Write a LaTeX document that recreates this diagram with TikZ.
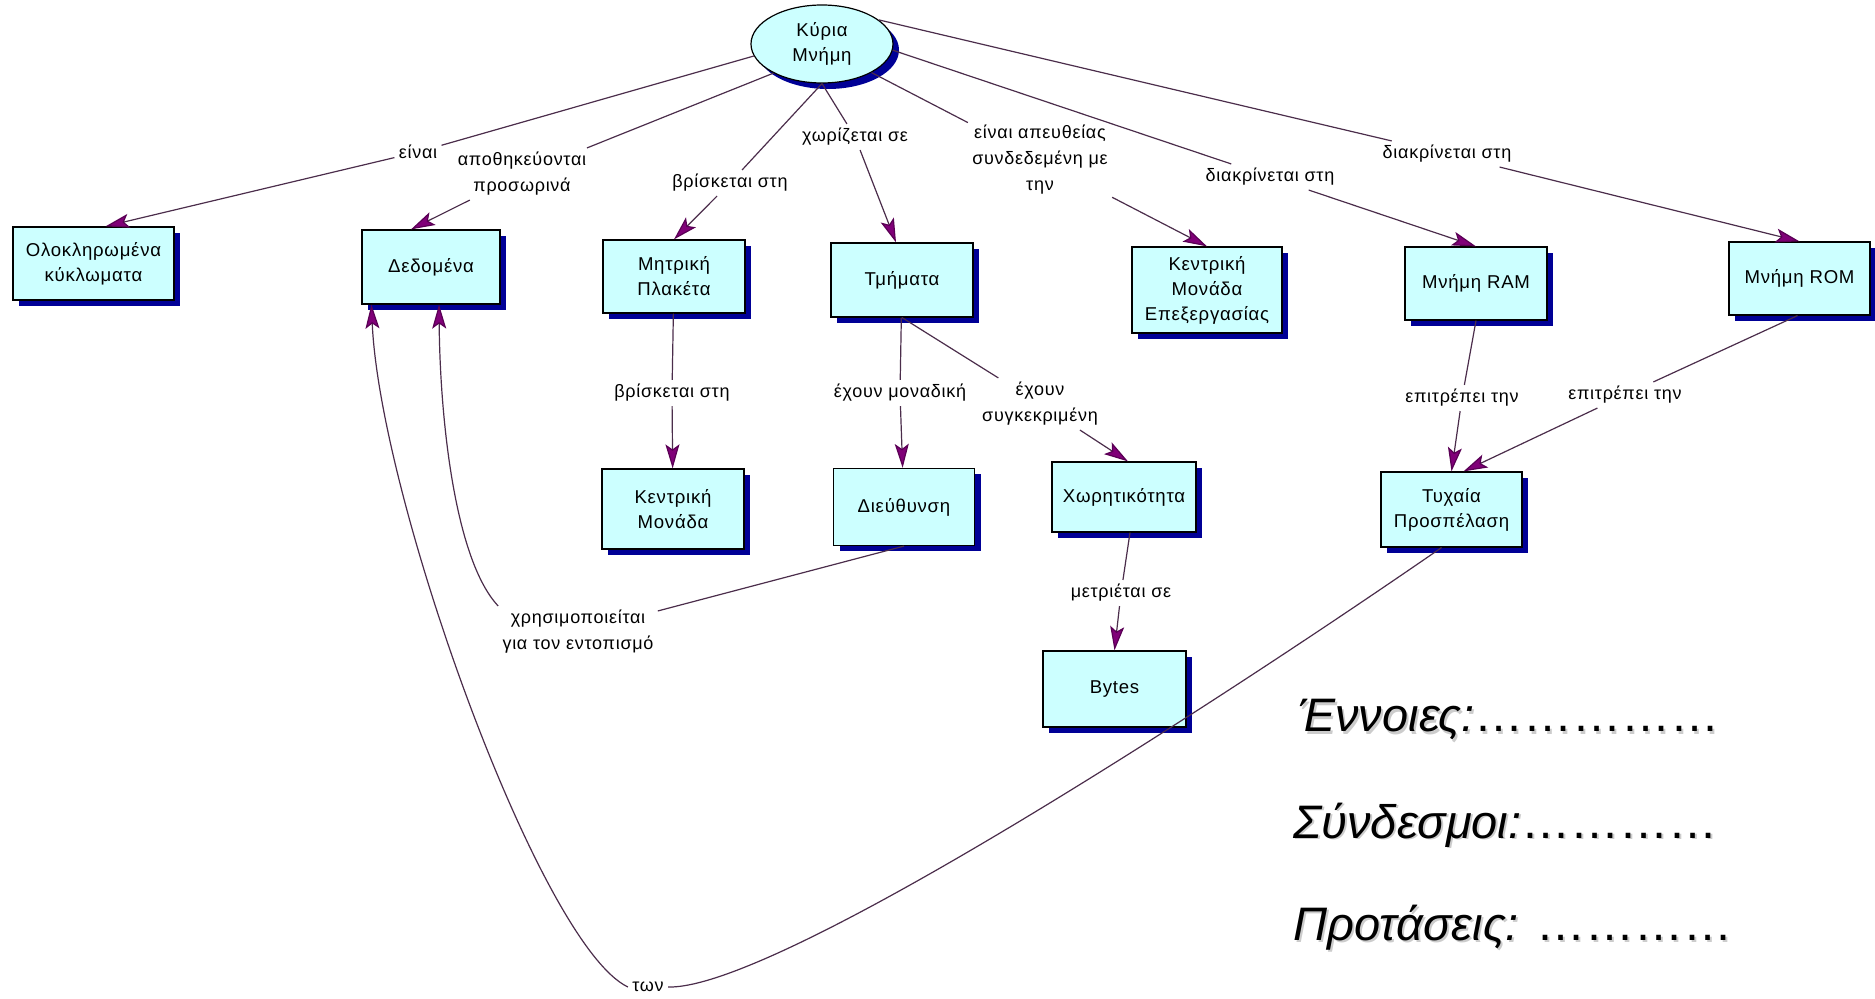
\documentclass[tikz,border=0pt]{standalone}
\usepackage{fontspec}
\setmainfont{Liberation Sans}
\newfontfamily\mapfont[LetterSpace=4]{Liberation Sans}
\usetikzlibrary{arrows.meta,shadows,shapes.geometric}
\definecolor{boxfill}{RGB}{204,255,255}
\definecolor{boxshade}{RGB}{0,0,150}
\definecolor{linkline}{RGB}{75,45,75}
\definecolor{tipfill}{RGB}{128,0,120}
\definecolor{tipedge}{RGB}{90,0,85}
\begin{document}
\begin{tikzpicture}[x=0.5pt,y=-0.5pt,
  concept/.style={draw=black, line width=0.6pt, fill=boxfill,
    font=\mapfont\fontsize{9.3}{12.5}\selectfont, align=center, inner sep=0pt,
    drop shadow={shadow xshift=3pt, shadow yshift=-3pt, fill=boxshade, opacity=1}},
  link/.style={font=\mapfont\fontsize{9}{13}\selectfont, align=center, inner sep=2pt},
  conn/.style={draw=linkline, line width=0.6pt},
  arr/.style={conn, -{Stealth[length=12pt,width=7pt,inset=2.5pt,fill=tipfill,color=tipedge]}},
  legend/.style={font=\fontsize{23.5}{28}\selectfont, anchor=base west, inner sep=0pt},
  legshade/.style={legend, text=black!40, opacity=0.5},
]
\useasboundingbox (0,0) rectangle (1875,999);

% root concept
\node[concept, ellipse, minimum width=71pt, minimum height=39pt] (kyr) at (822,44) {Κύρια\\Μνήμη};

% concepts, first row
\node[concept, minimum width=80.5pt, minimum height=36.5pt] (olo) at (93.5,263.5) {Ολοκληρωμένα\\κύκλωματα};
\node[concept, minimum width=69pt, minimum height=37pt] (ded) at (431,267) {Δεδομένα};
\node[concept, minimum width=71pt, minimum height=36.5pt] (mitr) at (674,276.5) {Μητρική\\Πλακέτα};
\node[concept, minimum width=71pt, minimum height=37pt] (tmim) at (902,280) {Τμήματα};
\node[concept, minimum width=75pt, minimum height=43pt] (kme) at (1207,290) {Κεντρική\\Μονάδα\\Επεξεργασίας};
\node[concept, minimum width=71pt, minimum height=36.5pt] (ram) at (1476,283.5) {Μνήμη RAM};
\node[concept, minimum width=70.5pt, minimum height=36.5pt] (rom) at (1799.5,278.5) {Μνήμη ROM};

% concepts, second row
\node[concept, minimum width=71pt, minimum height=40pt] (kmon) at (673,509) {Κεντρική\\Μονάδα};
\node[concept, minimum width=70.5pt, minimum height=38.5pt] (dieu) at (904,507) {Διεύθυνση};
\node[concept, minimum width=72pt, minimum height=35pt] (xor) at (1124,497) {Χωρητικότητα};
\node[concept, minimum width=70.5pt, minimum height=37.5pt] (tyx) at (1451.5,509.5) {Τυχαία\\Προσπέλαση};
\node[concept, minimum width=71.5pt, minimum height=38pt] (bytes) at (1114.5,689) {Bytes};

% linking phrases
\node[link] (leinai) at (418,152) {είναι};
\node[link] (lapoth) at (522,174) {αποθηκεύονται\\προσωρινά};
\node[link] (lvrisk1) at (730,183) {βρίσκεται στη};
\node[link] (lxoriz) at (855,137) {χωρίζεται σε};
\node[link] (lapeuth) at (1040,160) {είναι απευθείας\\συνδεδεμένη με\\την};
\node[link] (ldiakr1) at (1270,177) {διακρίνεται στη};
\node[link] (ldiakr2) at (1447,154) {διακρίνεται στη};
\node[link] (lvrisk2) at (672,393) {βρίσκεται στη};
\node[link] (lmonad) at (900,393) {έχουν μοναδική};
\node[link] (lsygk) at (1040,404) {έχουν\\συγκεκριμένη};
\node[link] (lmetr) at (1121,593) {μετριέται σε};
\node[link] (lepitr1) at (1462,398) {επιτρέπει την};
\node[link] (lepitr2) at (1625,395) {επιτρέπει την};
\node[link] (lxrisim) at (578,632) {χρησιμοποιείται\\για τον εντοπισμό};
\node[link] (lton) at (648,987) {των};

% links from the root
\draw[conn] (kyr.190) -- (leinai);
\draw[arr] (leinai) -- ([xshift=6pt]olo.north);
\draw[conn] (kyr.211) -- (lapoth);
\draw[arr] (lapoth) -- ([xshift=-10pt]ded.north);
\draw[conn] (kyr.south) -- (lvrisk1);
\draw[arr] (lvrisk1) -- (mitr.north);
\draw[conn] (kyr.south) -- (lxoriz);
\draw[arr] (lxoriz) -- ([xshift=-3pt]tmim.north);
\draw[conn] (kyr.330) -- (lapeuth);
\draw[arr] (lapeuth) -- (kme.north);
\draw[conn] (kyr.355) -- (ldiakr1);
\draw[arr] (ldiakr1) -- (ram.north);
\draw[conn] (kyr.23) -- (ldiakr2);
\draw[arr] (ldiakr2) -- (rom.north);

% lower links
\draw[conn] (mitr) -- (lvrisk2);
\draw[arr] (lvrisk2) -- (kmon);
\draw[conn] (tmim) -- (lmonad);
\draw[arr] (lmonad) -- (dieu);
\draw[conn] (tmim.south) -- (lsygk);
\draw[arr] (lsygk) -- ([xshift=2pt]xor.north);
\draw[conn] ([xshift=3pt]xor.south) -- (lmetr);
\draw[arr] (lmetr) -- (bytes.north);
\draw[conn] (ram.south) -- (lepitr1);
\draw[arr] (lepitr1) -- (tyx.north);
\draw[conn] ([xshift=-1pt]rom.south) -- (lepitr2);
\draw[arr] (lepitr2) -- ([xshift=6pt]tyx.north);

% links back to the data
\draw[conn] (dieu.south) -- (lxrisim);
\draw[arr] (lxrisim.north west) .. controls (455,560) and (440,420) .. ([xshift=4pt]ded.south);
\draw[conn] ([xshift=-5pt]tyx.south) .. controls (1250,680) and (780,990) .. (lton.east);
\draw[arr] (lton.west) .. controls (540,945) and (380,500) .. ([xshift=5pt]ded.south west);

% exercise prompts
\node[legshade] (t1s) at (1300,734) {\itshape Έννοιες:\upshape\fontsize{24.5}{28}\selectfont ……………};
\node[legend] (t1) at (1298,732) {\itshape Έννοιες:\upshape\fontsize{24.5}{28}\selectfont ……………};
\node[legshade] (t2s) at (1295,840) {\itshape Σύνδεσμοι:\upshape\fontsize{24.5}{28}\selectfont …………};
\node[legend] (t2) at (1293,838) {\itshape Σύνδεσμοι:\upshape\fontsize{24.5}{28}\selectfont …………};
\node[legshade] (t3s) at (1295,942) {\itshape Προτάσεις: \upshape\fontsize{24.5}{28}\selectfont …………};
\node[legend] (t3) at (1293,940) {\itshape Προτάσεις: \upshape\fontsize{24.5}{28}\selectfont …………};
\end{tikzpicture}
\end{document}
